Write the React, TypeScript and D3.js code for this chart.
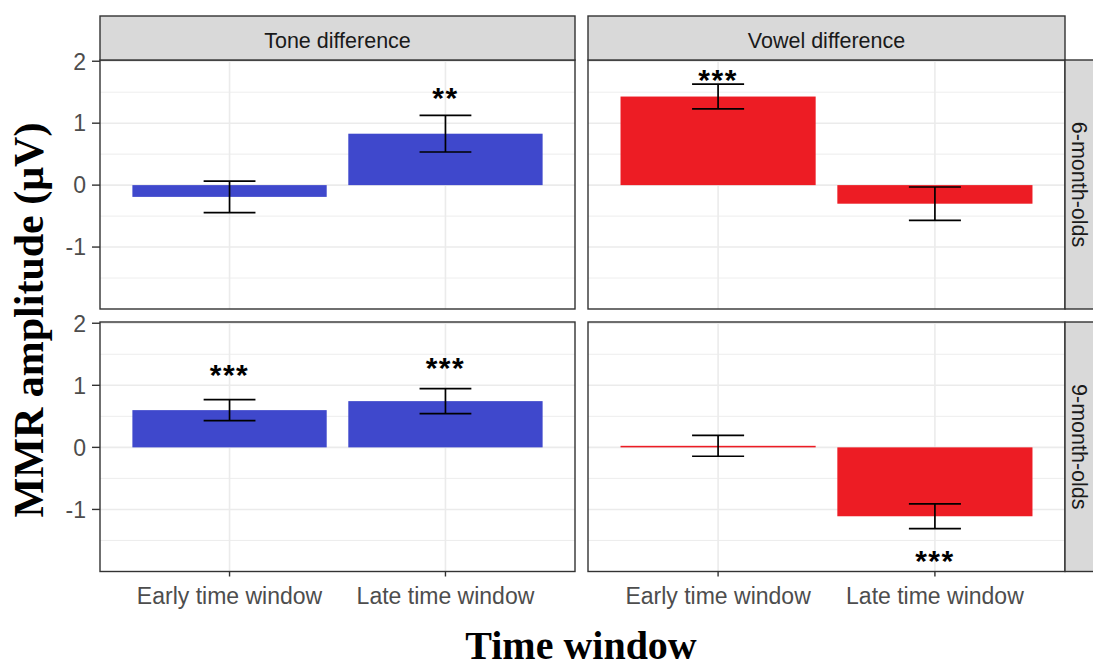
import React from "react";
import * as d3 from "d3";

// ---- data ----
const conditions = ["Tone difference", "Vowel difference"];
const ages = ["6-month-olds", "9-month-olds"];
const windows = ["Early time window", "Late time window"];

const toneMeans6 = [-0.19, 0.83];
const toneSE6 = [0.255, 0.295];
const vowelMeans6 = [1.43, -0.3];
const vowelSE6 = [0.2, 0.27];
const toneMeans9 = [0.6, 0.745];
const toneSE9 = [0.17, 0.2];
const vowelMeans9 = [0.025, -1.11];
const vowelSE9 = [0.168, 0.2];

const toneSig6 = ["", "**"];
const toneSigY6 = [0, 1.5];
const vowelSig6 = ["***", ""];
const vowelSigY6 = [1.795, 0];
const toneSig9 = ["***", "***"];
const toneSigY9 = [1.258, 1.376];
const vowelSig9 = ["", "***"];
const vowelSigY9 = [0, -1.742];

const yTicks = [-1, 0, 1, 2];
const yMinor = [-1.5, -0.5, 0.5, 1.5];
const yDomain: [number, number] = [-2.0, 2.02];

const conditionColors = ["#3f48cc", "#ed1c24"];

const panelData = [
  [
    { means: toneMeans6, se: toneSE6, sig: toneSig6, sigY: toneSigY6 },
    { means: vowelMeans6, se: vowelSE6, sig: vowelSig6, sigY: vowelSigY6 },
  ],
  [
    { means: toneMeans9, se: toneSE9, sig: toneSig9, sigY: toneSigY9 },
    { means: vowelMeans9, se: vowelSE9, sig: vowelSig9, sigY: vowelSigY9 },
  ],
];

// ---- layout ----
const W = 1093;
const H = 668;
const colX = [
  [100, 575],
  [588, 1065],
];
const rowY = [
  [60, 309],
  [322, 571.5],
];
const stripTop = 16;
const stripRightW = 44;

const sans = "'Liberation Sans', Arial, Helvetica, sans-serif";
const serif = "'Liberation Serif', 'Times New Roman', serif";
const gridCol = "#ebebeb";
const borderCol = "#333333";
const textGray = "#4d4d4d";

export default function App() {
  const panels: React.ReactNode[] = [];

  for (let r = 0; r < 2; r++) {
    const y = d3.scaleLinear().domain(yDomain).range([rowY[r][1], rowY[r][0]]);
    for (let c = 0; c < 2; c++) {
      const x = d3
        .scaleBand<string>()
        .domain(windows)
        .range([colX[c][0], colX[c][1]])
        .paddingInner(0)
        .paddingOuter(0.1);
      const step = x.step();
      const barW = step * 0.9;
      const capHalf = step * 0.12;
      const d = panelData[r][c];
      const x0 = colX[c][0];
      const x1 = colX[c][1];
      const y0 = rowY[r][0];
      const y1 = rowY[r][1];
      panels.push(
        <g key={`p${r}${c}`}>
          <rect x={x0} y={y0} width={x1 - x0} height={y1 - y0} fill="#fff" />
          {yMinor.map((t) => (
            <line key={`mn${t}`} x1={x0} x2={x1} y1={y(t)} y2={y(t)} stroke={gridCol} strokeWidth={0.9} />
          ))}
          {yTicks.map((t) => (
            <line key={`mj${t}`} x1={x0} x2={x1} y1={y(t)} y2={y(t)} stroke={gridCol} strokeWidth={1.6} />
          ))}
          {windows.map((w) => (
            <line
              key={`vg${w}`}
              x1={x(w)! + step / 2}
              x2={x(w)! + step / 2}
              y1={y0}
              y2={y1}
              stroke={gridCol}
              strokeWidth={1.6}
            />
          ))}
          {windows.map((w, i) => {
            const cx = x(w)! + step / 2;
            const v = d.means[i];
            const top = y(Math.max(0, v));
            const bot = y(Math.min(0, v));
            return (
              <rect
                key={`bar${w}`}
                x={cx - barW / 2}
                y={top}
                width={barW}
                height={Math.max(bot - top, 1)}
                fill={conditionColors[c]}
              />
            );
          })}
          {windows.map((w, i) => {
            const cx = x(w)! + step / 2;
            const hi = y(d.means[i] + d.se[i]);
            const lo = y(d.means[i] - d.se[i]);
            return (
              <g key={`err${w}`} stroke="#000" strokeWidth={1.7}>
                <line x1={cx} x2={cx} y1={hi} y2={lo} />
                <line x1={cx - capHalf} x2={cx + capHalf} y1={hi} y2={hi} />
                <line x1={cx - capHalf} x2={cx + capHalf} y1={lo} y2={lo} />
              </g>
            );
          })}
          {windows.map((w, i) =>
            d.sig[i] ? (
              <text
                key={`sig${w}`}
                x={x(w)! + step / 2}
                y={y(d.sigY[i]) + 16}
                textAnchor="middle"
                fontFamily={sans}
                fontWeight="bold"
                fontSize={30}
                letterSpacing={1.5}
                fill="#000"
              >
                {d.sig[i]}
              </text>
            ) : null
          )}
          <rect x={x0} y={y0} width={x1 - x0} height={y1 - y0} fill="none" stroke={borderCol} strokeWidth={1.4} />
          {/* y axis (left column only) */}
          {c === 0 &&
            yTicks.map((t) => (
              <g key={`yt${t}`}>
                <line x1={x0 - 8} x2={x0} y1={y(t)} y2={y(t)} stroke={borderCol} strokeWidth={1.4} />
                <text
                  x={x0 - 14}
                  y={y(t)}
                  dy="0.36em"
                  textAnchor="end"
                  fontFamily={sans}
                  fontSize={23}
                  fill={textGray}
                >
                  {t}
                </text>
              </g>
            ))}
          {/* x axis (bottom row only) */}
          {r === 1 &&
            windows.map((w) => (
              <g key={`xt${w}`}>
                <line
                  x1={x(w)! + step / 2}
                  x2={x(w)! + step / 2}
                  y1={y1}
                  y2={y1 + 5}
                  stroke={borderCol}
                  strokeWidth={1.4}
                />
                <text
                  x={x(w)! + step / 2}
                  y={604}
                  textAnchor="middle"
                  fontFamily={sans}
                  fontSize={23}
                  fill={textGray}
                >
                  {w}
                </text>
              </g>
            ))}
        </g>
      );
    }
  }

  return (
    <svg
      width={W}
      height={H}
      viewBox={`0 0 ${W} ${H}`}
      style={{ position: "absolute", left: 0, top: 0, background: "#fff" }}
    >
      <rect x={0} y={0} width={W} height={H} fill="#fff" />
      {panels}
      {/* top strips */}
      {conditions.map((cond, c) => (
        <g key={`st${cond}`}>
          <rect
            x={colX[c][0]}
            y={stripTop}
            width={colX[c][1] - colX[c][0]}
            height={rowY[0][0] - stripTop}
            fill="#d9d9d9"
            stroke={borderCol}
            strokeWidth={1.4}
          />
          <text
            x={(colX[c][0] + colX[c][1]) / 2}
            y={48}
            textAnchor="middle"
            fontFamily={sans}
            fontSize={21.5}
            fill="#1a1a1a"
          >
            {cond}
          </text>
        </g>
      ))}
      {/* right strips */}
      {ages.map((age, r) => {
        const cy = (rowY[r][0] + rowY[r][1]) / 2;
        return (
          <g key={`sr${age}`}>
            <rect
              x={colX[1][1]}
              y={rowY[r][0]}
              width={stripRightW}
              height={rowY[r][1] - rowY[r][0]}
              fill="#d9d9d9"
              stroke={borderCol}
              strokeWidth={1.4}
            />
            <text
              transform={`translate(1071.5, ${cy}) rotate(90)`}
              textAnchor="middle"
              fontFamily={sans}
              fontSize={21.5}
              fill="#1a1a1a"
            >
              {age}
            </text>
          </g>
        );
      })}
      {/* axis titles */}
      <text
        transform={`translate(43, 320) rotate(-90)`}
        textAnchor="middle"
        fontFamily={serif}
        fontWeight="bold"
        fontSize={42}
        fill="#000"
      >
        MMR amplitude (μV)
      </text>
      <text
        x={581}
        y={659}
        textAnchor="middle"
        fontFamily={serif}
        fontWeight="bold"
        fontSize={40}
        fill="#000"
      >
        Time window
      </text>
    </svg>
  );
}
